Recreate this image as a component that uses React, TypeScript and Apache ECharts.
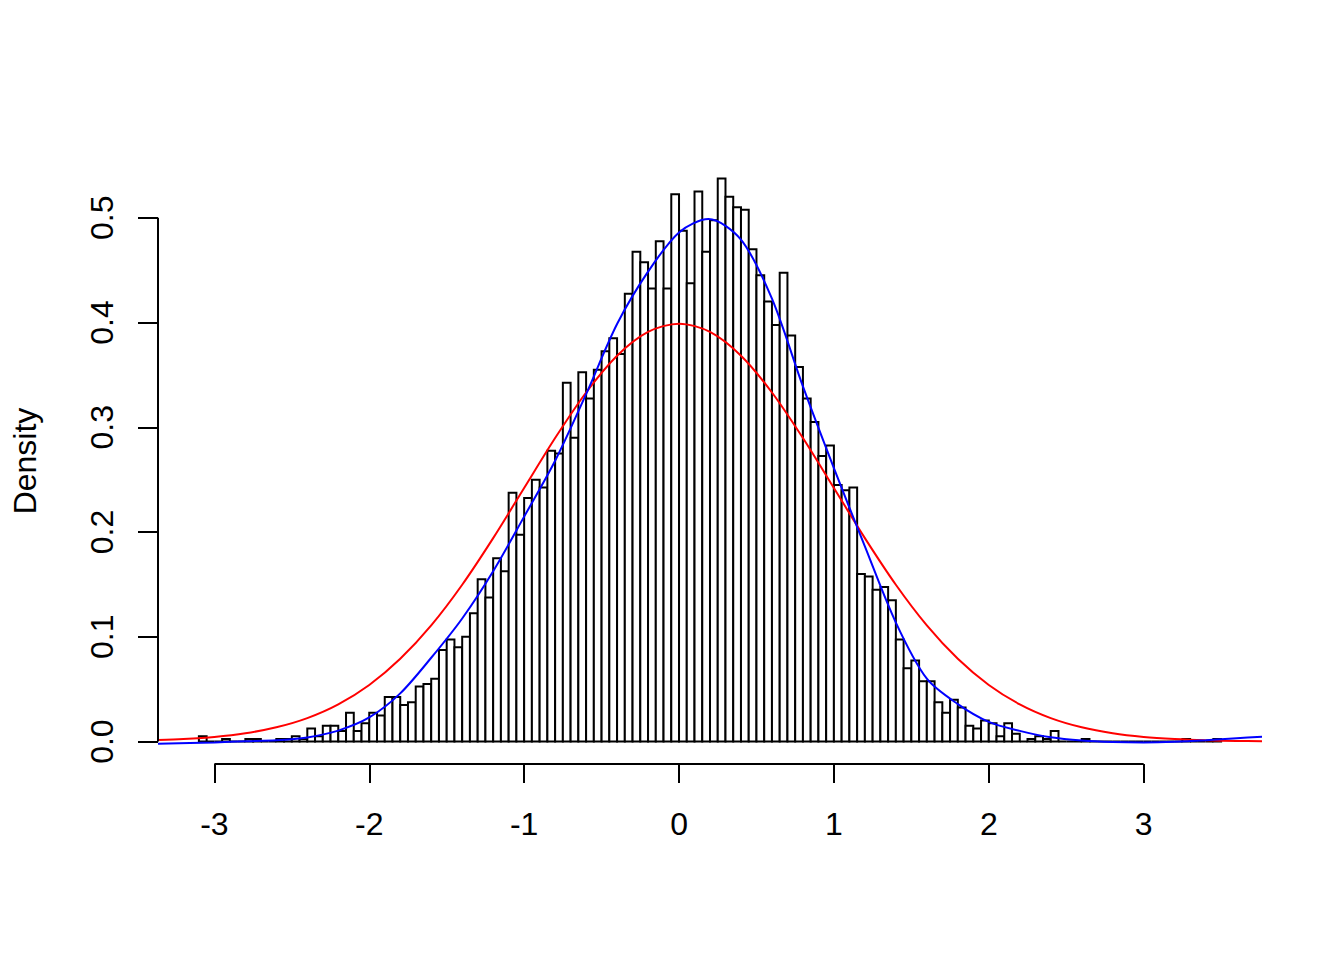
import React, { useEffect, useRef } from "react";
import * as echarts from "echarts";

// Histogram breaks (density scale)
const BREAK_START = -3.1;
const BIN_WIDTH = 0.05;
const DENSITY = [
  0.005, 0, 0, 0.0025, 0, 0, 0.0025, 0.0025, 0, 0,
  0.0025, 0.0025, 0.005, 0.0025, 0.0125, 0.005, 0.015, 0.015, 0.01, 0.0275,
  0.01, 0.0175, 0.0275, 0.025, 0.0425, 0.0425, 0.035, 0.0375, 0.0525, 0.055,
  0.06, 0.0875, 0.0975, 0.09, 0.1, 0.1225, 0.155, 0.1375, 0.175, 0.1625,
  0.2375, 0.1975, 0.2325, 0.25, 0.2425, 0.2775, 0.275, 0.3425, 0.29, 0.3525,
  0.3275, 0.355, 0.3725, 0.385, 0.37, 0.4275, 0.4675, 0.4575, 0.4325, 0.4775,
  0.4325, 0.5225, 0.4875, 0.4375, 0.525, 0.4675, 0.4975, 0.5375, 0.52, 0.51,
  0.5075, 0.47, 0.445, 0.42, 0.3975, 0.4475, 0.3875, 0.3575, 0.3275, 0.305,
  0.2725, 0.2825, 0.245, 0.24, 0.2425, 0.16, 0.1575, 0.145, 0.1475, 0.135,
  0.0975, 0.07, 0.0775, 0.0575, 0.0575, 0.0375, 0.0275, 0.04, 0.0325, 0.015,
  0.0125, 0.02, 0.0175, 0.005, 0.0175, 0.0075, 0, 0.0025, 0.005, 0.0025,
  0.01, 0, 0, 0, 0.0025, 0, 0, 0, 0, 0,
  0, 0, 0, 0, 0, 0, 0, 0.0025, 0, 0,
  0, 0.0025,
];

// Red curve
const RED_X = [
  -3.364, -3.2, -3.0, -2.8, -2.6, -2.4, -2.2, -2.0, -1.8, -1.6, -1.4, -1.2, -1.0,
  -0.8, -0.6, -0.4, -0.2, 0, 0.2, 0.4, 0.6, 0.8, 1.0, 1.2, 1.4, 1.6, 1.8, 2.0,
  2.2, 2.4, 2.6, 2.8, 3.0, 3.2, 3.4, 3.6, 3.764,
];
const RED_Y = [
  0.0014, 0.0024, 0.0044, 0.0079, 0.0136, 0.0224, 0.0355, 0.054, 0.079, 0.1109,
  0.1497, 0.1942, 0.242, 0.2897, 0.3332, 0.3683, 0.391, 0.3989, 0.391, 0.3683,
  0.3332, 0.2897, 0.242, 0.1942, 0.1497, 0.1109, 0.079, 0.054, 0.0355, 0.0224,
  0.0136, 0.0079, 0.0044, 0.0024, 0.0012, 0.0006, 0.0003,
];

// Blue curve
const BLUE_X = [
  -3.364, -3.0, -2.8, -2.6, -2.4, -2.2, -2.0, -1.8, -1.6, -1.4, -1.2, -1.0,
  -0.8, -0.6, -0.4, -0.2, 0.0, 0.19, 0.4, 0.6, 0.8, 1.0, 1.2, 1.4, 1.6, 1.8,
  2.0, 2.2, 2.4, 2.6, 2.8, 3.0, 3.2, 3.4, 3.6, 3.764,
];
const BLUE_Y = [
  -0.002, -0.0008, 0.0003, 0.0012, 0.004, 0.0105, 0.023, 0.046, 0.08, 0.1175,
  0.1626, 0.2147, 0.268, 0.3316, 0.3985, 0.4485, 0.486, 0.4987, 0.479, 0.4227,
  0.339, 0.261, 0.1863, 0.1136, 0.06, 0.0358, 0.0188, 0.0102, 0.0041, 0.001,
  -0.0004, -0.0008, -0.0002, 0.0013, 0.0032, 0.0045,
];

const X_TICKS = [-3, -2, -1, 0, 1, 2, 3];
const Y_TICKS = [0, 0.1, 0.2, 0.3, 0.4, 0.5];
const X_RANGE = [-3.364, 3.764];
const Y_RANGE = [-0.0214, 0.557];
const Y_TITLE = "Density";

const FONT = "'Liberation Sans', Arial, Helvetica, sans-serif";

export default function App() {
  const ref = useRef<HTMLDivElement>(null);

  useEffect(() => {
    if (!ref.current) return;
    const chart = echarts.init(ref.current, null, { renderer: "svg" });

    const bins = DENSITY.map((d, i) => [
      BREAK_START + i * BIN_WIDTH,
      BREAK_START + (i + 1) * BIN_WIDTH,
      d,
    ]);
    const red = RED_X.map((x, i) => [x, RED_Y[i]]);
    const blue = BLUE_X.map((x, i) => [x, BLUE_Y[i]]);

    chart.setOption({
      animation: false,
      backgroundColor: "#ffffff",
      grid: { left: 158, right: 82, top: 158, bottom: 196, containLabel: false },
      xAxis: {
        type: "value",
        min: X_RANGE[0],
        max: X_RANGE[1],
        axisLine: { show: false, onZero: false },
        splitLine: { show: false },
        axisTick: {
          show: true,
          inside: false,
          customValues: X_TICKS,
          length: 19,
          lineStyle: { color: "#000", width: 2 },
        },
        axisLabel: {
          customValues: X_TICKS,
          margin: 44,
          color: "#000",
          fontSize: 32,
          fontFamily: FONT,
          formatter: (v: number) => String(Math.round(v)),
        },
      },
      yAxis: {
        type: "value",
        min: Y_RANGE[0],
        max: Y_RANGE[1],
        name: Y_TITLE,
        nameLocation: "middle",
        nameRotate: 90,
        nameGap: 117,
        nameTextStyle: { color: "#000", fontSize: 32, fontFamily: FONT },
        axisLine: { show: false, onZero: false },
        splitLine: { show: false },
        axisTick: {
          show: true,
          inside: false,
          customValues: Y_TICKS,
          length: 20,
          lineStyle: { color: "#000", width: 2 },
        },
        axisLabel: {
          customValues: Y_TICKS,
          rotate: 90,
          margin: 40,
          color: "#000",
          fontSize: 32,
          fontFamily: FONT,
          formatter: (v: number) => v.toFixed(1),
        },
      },
      series: [
        {
          type: "custom",
          silent: true,
          clip: false,
          data: bins,
          encode: { x: [0, 1], y: 2 },
          renderItem: (params: any, api: any) => {
            const x0 = api.value(0);
            const x1 = api.value(1);
            const h = api.value(2);
            const p0 = api.coord([x0, h]);
            const p1 = api.coord([x1, 0]);
            return {
              type: "rect",
              shape: {
                x: p0[0],
                y: p0[1],
                width: p1[0] - p0[0],
                height: p1[1] - p0[1],
              },
              style: { fill: "#ffffff", stroke: "#000000", lineWidth: 2 },
            };
          },
        },
        {
          type: "line",
          silent: true,
          data: red,
          showSymbol: false,
          smooth: 0.3,
          lineStyle: { color: "#ff0000", width: 2 },
          z: 3,
        },
        {
          type: "line",
          silent: true,
          data: blue,
          showSymbol: false,
          smooth: 0.3,
          lineStyle: { color: "#0000ff", width: 2 },
          z: 4,
        },
        {
          // x axis line from first to last tick (R style)
          type: "line",
          silent: true,
          clip: false,
          data: [
            [X_TICKS[0], Y_RANGE[0]],
            [X_TICKS[X_TICKS.length - 1], Y_RANGE[0]],
          ],
          showSymbol: false,
          lineStyle: { color: "#000", width: 2 },
          z: 5,
        },
        {
          // y axis line from first to last tick (R style)
          type: "line",
          silent: true,
          clip: false,
          data: [
            [X_RANGE[0], Y_TICKS[0]],
            [X_RANGE[0], Y_TICKS[Y_TICKS.length - 1]],
          ],
          showSymbol: false,
          lineStyle: { color: "#000", width: 2 },
          z: 5,
        },
      ],
    });

    return () => chart.dispose();
  }, []);

  return (
    <div
      ref={ref}
      style={{
        position: "fixed",
        left: 0,
        top: 0,
        width: 1344,
        height: 960,
        background: "#fff",
      }}
    />
  );
}
